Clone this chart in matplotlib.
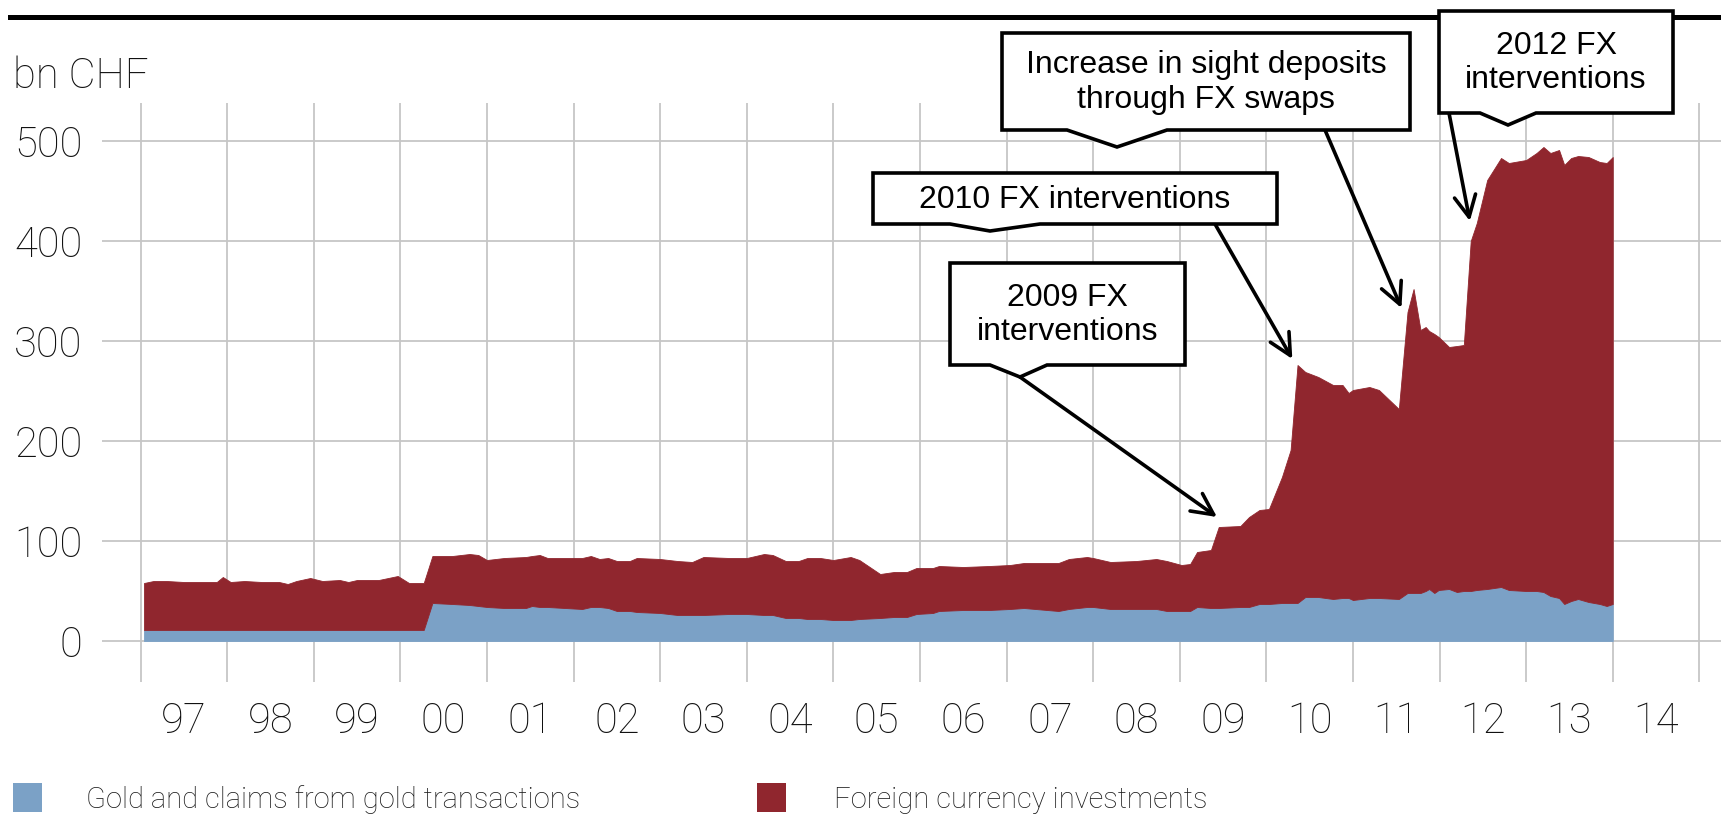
import matplotlib
matplotlib.use("Agg")
import matplotlib.pyplot as plt
from matplotlib.transforms import Affine2D
from matplotlib.patches import Polygon, Rectangle
from matplotlib.lines import Line2D

# ---------------- data (bn CHF) ----------------
dates = [1997.04, 1997.15, 1997.3, 1997.5, 1997.7, 1997.88, 1997.95, 1998.04, 1998.2, 1998.4,
         1998.6, 1998.7, 1998.8, 1998.96, 1999.1, 1999.3, 1999.4, 1999.5, 1999.75, 1999.97,
         2000.1, 2000.27, 2000.37, 2000.6, 2000.8, 2000.9, 2001.0, 2001.2, 2001.45, 2001.52,
         2001.61, 2001.7, 2002.1, 2002.2, 2002.3, 2002.4, 2002.5, 2002.65, 2002.73, 2003.0,
         2003.2, 2003.37, 2003.5, 2003.8, 2004.0, 2004.2, 2004.3, 2004.45, 2004.6, 2004.7,
         2004.85, 2005.0, 2005.2, 2005.3, 2005.54, 2005.7, 2005.85, 2005.96, 2006.15, 2006.22,
         2006.5, 2006.8, 2007.04, 2007.2, 2007.6, 2007.72, 2007.93, 2008.0, 2008.2, 2008.5,
         2008.73, 2008.85, 2009.02, 2009.12, 2009.2, 2009.36, 2009.45, 2009.7, 2009.8, 2009.92,
         2010.03, 2010.18, 2010.28, 2010.36, 2010.45, 2010.6, 2010.77, 2010.88, 2010.95, 2011.0,
         2011.19, 2011.3, 2011.53, 2011.63, 2011.7, 2011.78, 2011.84, 2011.88, 2011.94, 2011.99,
         2012.11, 2012.2, 2012.28, 2012.36, 2012.43, 2012.55, 2012.71, 2012.8, 2013.0, 2013.12,
         2013.2, 2013.28, 2013.38, 2013.44, 2013.52, 2013.6, 2013.72, 2013.85, 2013.93, 2014.0]

# top of the stack (gold + foreign currency investments)
total = [58, 60, 60, 59, 59, 59, 64, 59, 60, 59,
         59, 57, 60, 63, 60, 61, 59, 61, 61, 65,
         58, 58, 85, 85, 87, 86, 81, 83, 84, 85,
         86, 83, 83, 85, 82, 83, 80, 80, 83, 82,
         80, 79, 84, 83, 83, 87, 86, 80, 80, 83,
         83, 81, 84, 81, 67, 69, 69, 73, 73, 75,
         74, 75, 76, 78, 78, 82, 84, 83, 79, 80,
         82, 80, 76, 77, 89, 91, 114, 115, 124, 131,
         132, 164, 191, 276, 269, 264, 256, 256, 248, 251,
         254, 251, 232, 329, 352, 311, 314, 310, 307, 304,
         294, 295, 296, 400, 418, 461, 483, 478, 481, 488,
         494, 488, 491, 476, 483, 485, 484, 479, 478, 484]

# gold and claims from gold transactions
gold = [11, 11, 11, 11, 11, 11, 11, 11, 11, 11,
        11, 11, 11, 11, 11, 11, 11, 11, 11, 11,
        11, 11, 38, 37, 36, 35, 34, 33, 33, 35,
        34, 34, 32, 34, 34, 33, 30, 30, 29, 28,
        26, 26, 26, 27, 27, 26, 26, 23, 23, 22,
        22, 21, 21, 22, 23, 24, 24, 27, 28, 30,
        31, 31, 32, 33, 30, 32, 34, 34, 32, 32,
        32, 30, 30, 30, 34, 33, 33, 34, 34, 37,
        37, 38, 38, 38, 44, 44, 42, 43, 43, 41,
        43, 43, 42, 48, 48, 48, 50, 52, 48, 51,
        52, 49, 50, 50, 51, 52, 54, 51, 50, 50,
        49, 45, 43, 37, 40, 42, 39, 37, 35, 37]

year_ticks = list(range(1997, 2016))
year_labels = ["97", "98", "99", "00", "01", "02", "03", "04", "05", "06",
               "07", "08", "09", "10", "11", "12", "13", "14"]
y_ticks = [0, 100, 200, 300, 400, 500]

series_names = ["Gold and claims from gold transactions", "Foreign currency investments"]
BLUE = "#7ba1c6"
RED = "#90262e"
GRID = "#c6c6c6"

W, H = 1721, 819
fig = plt.figure(figsize=(W / 100, H / 100), dpi=100)
px = Affine2D().scale(1, -1).translate(0, H)  # pixel coords from top-left

TICKFONT = dict(family="Roboto", weight="light", color="#111111")
ANNFONT = dict(family="Liberation Sans", color="black")

ax = fig.add_axes([102 / W, 1 - 682 / H, (W - 102) / W, (682 - 103) / H])
ax.set_xlim(1996.555, 2015.25)
ax.set_ylim(-41, 538)
for s in ax.spines.values():
    s.set_visible(False)

# grid
for yv in y_ticks:
    ax.axhline(yv, color=GRID, lw=1.3, zorder=0)
for xv in year_ticks:
    ax.axvline(xv, color=GRID, lw=1.3, zorder=0)

# stacked areas
ax.fill_between(dates, 0, gold, color=BLUE, lw=0.6, edgecolor=BLUE, zorder=2)
ax.fill_between(dates, gold, total, color=RED, lw=0.6, edgecolor=RED, zorder=2)

# ticks
ax.set_yticks(y_ticks)
ax.set_yticklabels([str(v) for v in y_ticks], fontsize=30, **TICKFONT)
ax.tick_params(axis="y", length=0, pad=14)
ax.set_xticks([y + 0.5 for y in year_ticks[:-1]])
ax.set_xticklabels(year_labels, fontsize=30, **TICKFONT)
ax.tick_params(axis="x", length=0, pad=14)

# unit label
fig.text(13, 88, "bn CHF", transform=px, fontsize=30, va="baseline", ha="left", **TICKFONT)

# top rule
fig.add_artist(Line2D([10, W], [17, 17], transform=px, color="black", lw=3.6))

# annotation boxes in pixels
def callout(l, t, r, b, nl, nx, nr, ny, text):
    pts = [(l, t), (r, t), (r, b), (nr, b), (nx, ny), (nl, b), (l, b)]
    poly = Polygon(pts, closed=True, transform=px, facecolor="white", edgecolor="black",
                   lw=2.6, joinstyle="miter", zorder=5)
    fig.add_artist(poly)
    fig.text((l + r) / 2, (t + b) / 2 + 1, text, transform=px, ha="center", va="center",
             fontsize=23, linespacing=1.2, zorder=6, **ANNFONT)

def arrow(x0, y0, xd, yd):
    ax.annotate("", xy=(xd, yd), xycoords="data", xytext=(x0, y0), textcoords=px,
                arrowprops=dict(arrowstyle="->,head_length=0.7,head_width=0.35",
                                lw=2.6, color="black", mutation_scale=22,
                                shrinkA=0, shrinkB=0), zorder=7, annotation_clip=False)

callout(950, 263, 1185, 365, 990, 1020, 1047, 377, "2009 FX\ninterventions")
arrow(1020, 377, 2009.43, 124)

callout(873, 173, 1277, 224, 950, 990, 1040, 231, "2010 FX interventions")
arrow(1215, 224, 2010.30, 282)

callout(1002, 33, 1410, 130, 1067, 1117, 1167, 147, "Increase in sight deposits\nthrough FX swaps")
arrow(1325, 130, 2011.56, 333)

callout(1439, 11, 1673, 113, 1480, 1508, 1536, 125, "2012 FX\ninterventions")
arrow(1449, 113, 2012.35, 420)

# legend
fig.add_artist(Rectangle((13, 783), 29, 29, transform=px, facecolor=BLUE, edgecolor="none"))
fig.text(86, 800, series_names[0], transform=px, fontsize=21, va="center", ha="left",
         family="Roboto", weight="light", color="#1a1a1a")
fig.add_artist(Rectangle((757, 783), 29, 29, transform=px, facecolor=RED, edgecolor="none"))
fig.text(834, 800, series_names[1], transform=px, fontsize=21, va="center", ha="left",
         family="Roboto", weight="light", color="#1a1a1a")

fig.savefig("out.png", dpi=100)
